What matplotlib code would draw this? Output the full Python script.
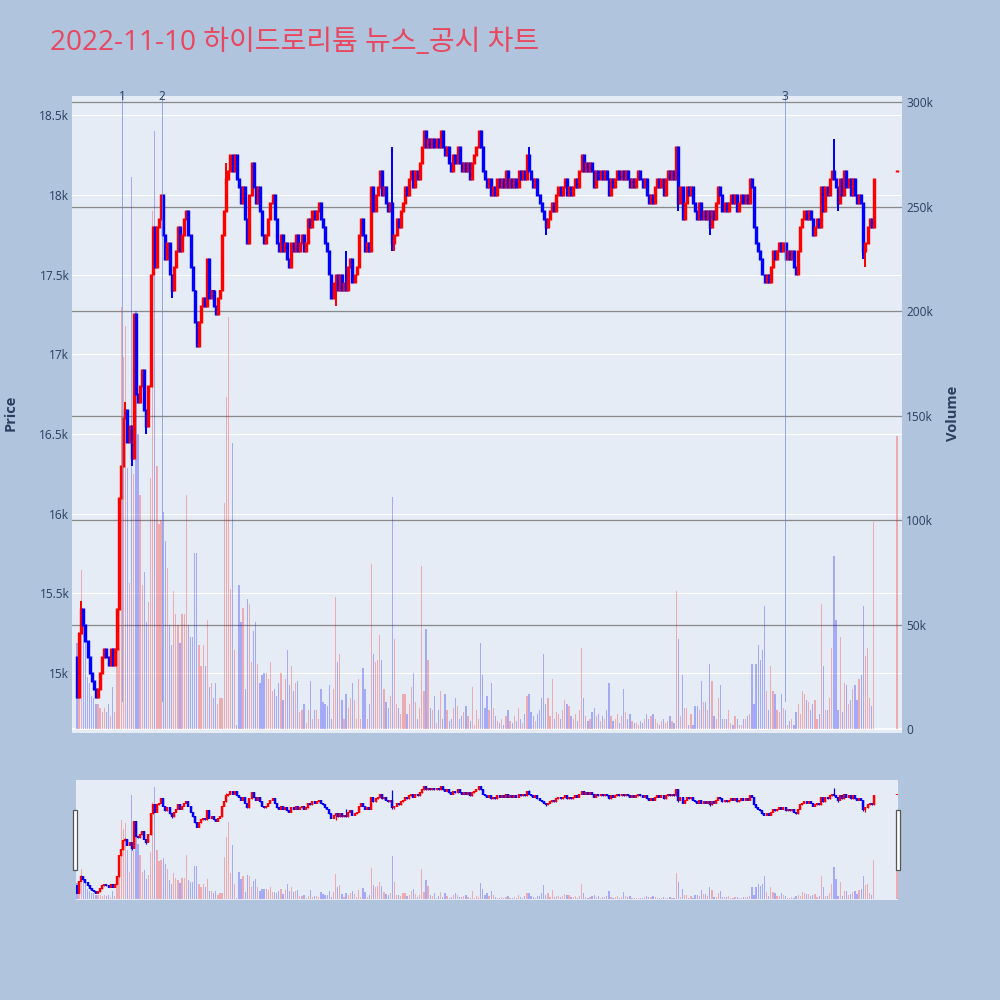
import matplotlib
matplotlib.use('Agg')
import matplotlib.pyplot as plt
import matplotlib.dates as mdates
import matplotlib.transforms as mtransforms
from matplotlib.patches import Rectangle
import numpy as np
import pandas as pd

plt.rcParams['font.family'] = ['Open Sans', 'Noto Sans CJK KR', 'DejaVu Sans']

title = '2022-11-10 하이드로리튬 뉴스_공시 차트'
day = '2022-11-10'
first_open = 15100

# 1-minute closes, 09:00 .. 15:19
close_px = [
    14850, 15250, 15400, 15300, 15200, 15100, 15000, 14950, 14900, 14850,  # 09:00
    14900, 15000, 15100, 15150, 15100, 15050, 15150, 15050, 15150, 15400,  # 09:10
    16100, 16300, 16600, 16650, 16450, 16550, 16350, 17250, 16750, 16700,  # 09:20
    16800, 16900, 16650, 16550, 16800, 17500, 17800, 17550, 17800, 17850,  # 09:30
    18000, 17750, 17600, 17700, 17500, 17400, 17550, 17650, 17800, 17650,  # 09:40
    17750, 17850, 17900, 17750, 17550, 17400, 17200, 17050, 17200, 17300,  # 09:50
    17350, 17300, 17600, 17350, 17400, 17300, 17250, 17350, 17400, 17750,  # 10:00
    17900, 18100, 18150, 18250, 18150, 18250, 18100, 18050, 17950, 18050,  # 10:10
    17850, 17700, 18000, 18200, 18050, 17950, 18050, 17900, 17750, 17700,  # 10:20
    17750, 17850, 17950, 18000, 17850, 17700, 17650, 17750, 17650, 17700,  # 10:30
    17600, 17550, 17700, 17650, 17750, 17650, 17700, 17750, 17650, 17700,  # 10:40
    17850, 17800, 17900, 17850, 17900, 17950, 17850, 17800, 17700, 17650,  # 10:50
    17500, 17350, 17450, 17500, 17400, 17500, 17400, 17450, 17400, 17550,  # 11:00
    17600, 17450, 17500, 17550, 17750, 17850, 17750, 17650, 17700, 17650,  # 11:10
    18050, 17900, 18000, 18050, 18150, 18000, 18050, 17950, 17900, 17950,  # 11:20
    17700, 17750, 17850, 17800, 17900, 17950, 18050, 18000, 18100, 18150,  # 11:30
    18050, 18150, 18100, 18200, 18300, 18400, 18300, 18350, 18300, 18350,  # 11:40
    18300, 18350, 18300, 18400, 18300, 18250, 18300, 18200, 18150, 18250,  # 11:50
    18200, 18300, 18200, 18150, 18200, 18150, 18200, 18100, 18200, 18250,  # 12:00
    18300, 18400, 18300, 18150, 18100, 18050, 18100, 18000, 18050, 18000,  # 12:10
    18100, 18050, 18100, 18050, 18150, 18050, 18100, 18050, 18100, 18050,  # 12:20
    18150, 18100, 18150, 18100, 18250, 18150, 18100, 18050, 18100, 18000,  # 12:30
    17950, 17900, 17850, 17800, 17850, 17900, 17950, 17900, 18000, 18050,  # 12:40
    18000, 18050, 18100, 18000, 18050, 18000, 18050, 18100, 18050, 18150,  # 12:50
    18250, 18150, 18200, 18150, 18200, 18150, 18050, 18150, 18100, 18150,  # 13:00
    18100, 18150, 18100, 18000, 18100, 18050, 18100, 18150, 18100, 18150,  # 13:10
    18100, 18150, 18100, 18050, 18100, 18050, 18100, 18150, 18100, 18050,  # 13:20
    18100, 18000, 17950, 18000, 17950, 18050, 18100, 18050, 18100, 18000,  # 13:30
    18100, 18150, 18100, 18150, 18100, 18300, 17950, 18050, 17850, 17950,  # 13:40
    18050, 18000, 18050, 17950, 17900, 17850, 17950, 17850, 17900, 17850,  # 13:50
    17900, 17800, 17900, 17850, 17950, 18050, 18000, 17900, 17950, 17900,  # 14:00
    17950, 18000, 17950, 18000, 17900, 17950, 18000, 17950, 18000, 17950,  # 14:10
    18100, 18050, 17800, 17700, 17650, 17600, 17500, 17450, 17500, 17450,  # 14:20
    17550, 17650, 17600, 17650, 17700, 17650, 17700, 17600, 17650, 17600,  # 14:30
    17650, 17550, 17500, 17650, 17800, 17850, 17900, 17850, 17900, 17850,  # 14:40
    17750, 17800, 17850, 17800, 18050, 17900, 18050, 18000, 18100, 18150,  # 14:50
    18100, 18050, 17950, 18100, 18000, 18150, 18050, 18100, 18000, 18100,  # 15:00
    18000, 17950, 18000, 17950, 17650, 17700, 17800, 17850, 17800, 18100,  # 15:10
]

# volume per minute, thousands of shares
vol_k = [
    41, 35, 76, 57, 42, 25, 22, 16, 15, 12,
    12, 10, 8, 10, 8, 12, 6, 20, 8, 55,
    60, 202, 178, 193, 125, 70, 264, 122, 200, 141,
    112, 69, 75, 51, 61, 120, 248, 286, 126, 98,
    100, 104, 90, 77, 50, 40, 66, 55, 50, 41,
    55, 55, 112, 50, 44, 44, 84, 84, 40, 30,
    40, 30, 52, 20, 22, 15, 22, 12, 15, 15,
    108, 159, 197, 67, 137, 38, 2, 69, 51, 58,
    19, 62, 60, 32, 47, 51, 31, 22, 26, 27,
    27, 24, 32, 18, 19, 16, 22, 27, 14, 24,
    38, 21, 30, 18, 22, 23, 8, 9, 12, 3,
    9, 23, 5, 9, 9, 5, 19, 13, 12, 11,
    21, 5, 19, 63, 32, 36, 14, 5, 17, 10,
    15, 22, 14, 5, 24, 5, 29, 19, 5, 12,
    79, 36, 32, 33, 45, 33, 19, 13, 10, 16,
    111, 43, 12, 10, 7, 17, 17, 7, 12, 20,
    27, 13, 5, 10, 78, 18, 48, 33, 10, 9,
    16, 3, 9, 18, 5, 17, 9, 4, 5, 10,
    15, 11, 5, 6, 8, 11, 6, 4, 20, 2,
    9, 5, 41, 26, 10, 16, 9, 22, 10, 6,
    4, 3, 5, 2, 6, 9, 4, 3, 6, 4,
    10, 5, 3, 7, 16, 17, 8, 6, 4, 7,
    9, 15, 36, 12, 15, 6, 24, 5, 8, 7,
    5, 9, 14, 12, 11, 6, 5, 7, 4, 9,
    39, 15, 6, 4, 5, 8, 10, 6, 7, 4,
    6, 5, 9, 22, 6, 4, 5, 7, 3, 6,
    19, 8, 5, 7, 4, 3, 3, 2, 4, 3,
    5, 7, 5, 6, 7, 5, 3, 2, 4, 5,
    3, 4, 6, 4, 3, 66, 43, 6, 26, 10,
    10, 2, 7, 2, 11, 11, 9, 23, 13, 13,
    9, 31, 23, 6, 5, 15, 21, 5, 5, 5,
    9, 3, 2, 6, 5, 2, 2, 5, 5, 6,
    7, 31, 12, 31, 40, 33, 38, 59, 18, 9,
    30, 18, 17, 9, 8, 17, 10, 9, 2, 4,
    5, 2, 8, 12, 7, 18, 17, 14, 13, 9,
    12, 14, 5, 7, 60, 30, 9, 9, 15, 39,
    83, 52, 9, 44, 8, 22, 21, 12, 14, 19,
    21, 14, 24, 26, 59, 35, 39, 15, 11, 99,
]

# wicks that reach past the bodies
wick_high = {'09:02': 15450, '09:23': 16700, '10:11': 18200, '11:08': 17650,
             '11:30': 18300, '12:35': 18300, '13:45': 18300, '15:00': 18350}
wick_low = {'09:26': 16300, '09:33': 16500, '09:45': 17350, '11:03': 17300,
            '11:30': 17650, '11:31': 17650, '12:43': 17750, '13:46': 17900,
            '14:01': 17750, '15:02': 17900, '15:14': 17600, '15:15': 17550}

# closing single-price auction
auction_time = '15:30'
auction_price = 18150
auction_vol_k = 140

# news / disclosure markers
news_labels = ['1', '2', '3']
news_times = ['09:21:25', '09:40:25', '14:36:45']

# ---- build OHLC ----
t0 = pd.Timestamp(day + ' 09:00')
times = list(pd.date_range(t0, periods=len(close_px), freq='min'))
times.append(pd.Timestamp(day + ' ' + auction_time))
x = mdates.date2num(times)
c = np.array(close_px + [auction_price], dtype=float)
o = np.concatenate([[first_open], c[:-1]])
o[-1] = auction_price
h = np.maximum(o, c)
l = np.minimum(o, c)
keys = [t.strftime('%H:%M') for t in times]
for i, k in enumerate(keys):
    if k in wick_high:
        h[i] = max(h[i], wick_high[k])
    if k in wick_low:
        l[i] = min(l[i], wick_low[k])
vol = np.array(vol_k + [auction_vol_k], dtype=float) * 1000

prev = np.concatenate([[first_open], c[:-1]])
up = (c > o) | ((c == o) & (c > prev))
cols = np.where(up, '#ff0000', '#0000ff')
# plotly box outline adds ~1px above and below the body
blo = np.minimum(o, c) - 6
bhi = np.maximum(o, c) + 6

mn = 1.0 / 1440
px = 0.72  # points per pixel

bg = '#B0C4DE'
plotbg = '#E5ECF6'
txt = '#2a3f5f'

fig = plt.figure(figsize=(10, 10), dpi=100, facecolor=bg)

# ---- main chart ----
ax2 = fig.add_axes([0.072, 0.267, 0.830, 0.637])  # volume (right)
ax = ax2.twinx()  # price
ax.yaxis.tick_left()
ax2.yaxis.tick_right()
ax.set_zorder(2)
ax2.set_zorder(1)
ax.patch.set_visible(False)
ax2.set_facecolor(plotbg)

p_lo, p_hi = 14624, 18620
v_lo, v_hi = -1900, 302900
ax.set_ylim(p_lo, p_hi)
ax2.set_ylim(v_lo, v_hi)
xlim = (x[0] - 2.38 * mn, x[0] + 392.4 * mn)
ax.set_xlim(xlim)
ax2.set_xlim(xlim)

# price gridlines (drawn under the bars)
p_ticks = np.arange(15000, 18501, 500)
tr = mtransforms.blended_transform_factory(ax2.transAxes, ax.transData)
for p in p_ticks:
    ax2.plot([0, 1], [p, p], color='white', lw=1.1 * px, transform=tr, zorder=0.6)

v_ticks = np.arange(0, 300001, 50000)
ax2.set_yticks(v_ticks)
ax2.set_yticklabels(['0'] + ['%dk' % (v // 1000) for v in v_ticks[1:]])
ax2.set_axisbelow(True)
ax2.yaxis.grid(True, color='#8a8a8a', lw=1.3 * px)
ax2.get_ygridlines()[0].set_visible(False)
ax2.axhline(0, color='white', lw=1.5 * px, zorder=0.6)

ax2.bar(x, vol, width=0.6 * mn, color=cols, alpha=0.28, linewidth=0, zorder=1)

ax.set_yticks(p_ticks)
ax.set_yticklabels([('%gk' % (p / 1000)) for p in p_ticks])
ax.vlines(x, l, h, colors=cols, lw=2.0 * px, zorder=3)
ax.vlines(x, blo, bhi, colors=cols, lw=3.4 * px, zorder=3, capstyle='butt')

for lab, tm in zip(news_labels, news_times):
    xv = mdates.date2num(pd.Timestamp(day + ' ' + tm))
    ax.axvline(xv, ymin=0.05, ymax=1.0, color='#6f8fe0', alpha=0.7, lw=1.0 * px, zorder=5)
    ax.text(xv, 1.0, lab, transform=ax.get_xaxis_transform(), ha='center', va='center',
            fontsize=8.6, color=txt, zorder=6)

x_ticks = [x[0] + hr * 60 * mn for hr in range(7)]
ax2.set_xticks(x_ticks)
ax2.set_xticklabels(['09:00\nNov 10, 2022'] + ['%02d:00' % (9 + hr) for hr in range(1, 7)],
                    linespacing=1.3)
ax.set_xticks([])

for a in (ax, ax2):
    for s in a.spines.values():
        s.set_visible(False)
    a.tick_params(length=0, labelsize=8.6, colors=txt)
ax.tick_params(axis='y', pad=2)
ax2.tick_params(axis='y', pad=3)
ax2.tick_params(axis='x', pad=3)

fig.text(0.011, 0.587, 'Price', rotation=90, ha='center', va='center',
         fontsize=10.5, color=txt, fontweight='bold')
fig.text(0.953, 0.587, 'Volume', rotation=90, ha='center', va='center',
         fontsize=10.5, color=txt, fontweight='bold')
fig.text(0.050, 0.957, title, ha='left', va='center', fontsize=20.2, color='#E8475F')

# ---- range slider ----
s2 = fig.add_axes([0.076, 0.100, 0.822, 0.120])
s1 = s2.twinx()
s1.set_zorder(2)
s2.set_zorder(1)
s1.patch.set_visible(False)
s2.set_facecolor(plotbg)
sx = (x[0] - 0.48 * mn, x[0] + 390.5 * mn)
s1.set_xlim(sx)
s2.set_xlim(sx)
s1.set_ylim(p_lo, p_hi)
s2.set_ylim(v_lo, v_hi)
s2.bar(x, vol, width=0.6 * mn, color=cols, alpha=0.28, linewidth=0)
s1.vlines(x, l, h, colors=cols, lw=1.2 * px)
s1.vlines(x, np.minimum(o, c) - 15, np.maximum(o, c) + 15, colors=cols, lw=2.4 * px,
          capstyle='butt')
for a in (s1, s2):
    a.set_xticks([])
    a.set_yticks([])
    for s in a.spines.values():
        s.set_visible(False)

for hx in (0.0725, 0.8960):
    fig.patches.append(Rectangle((hx, 0.130), 0.0042, 0.060, transform=fig.transFigure,
                                 facecolor='white', edgecolor='#555555', lw=0.9))

fig.savefig('out.png', dpi=100, facecolor=bg)
